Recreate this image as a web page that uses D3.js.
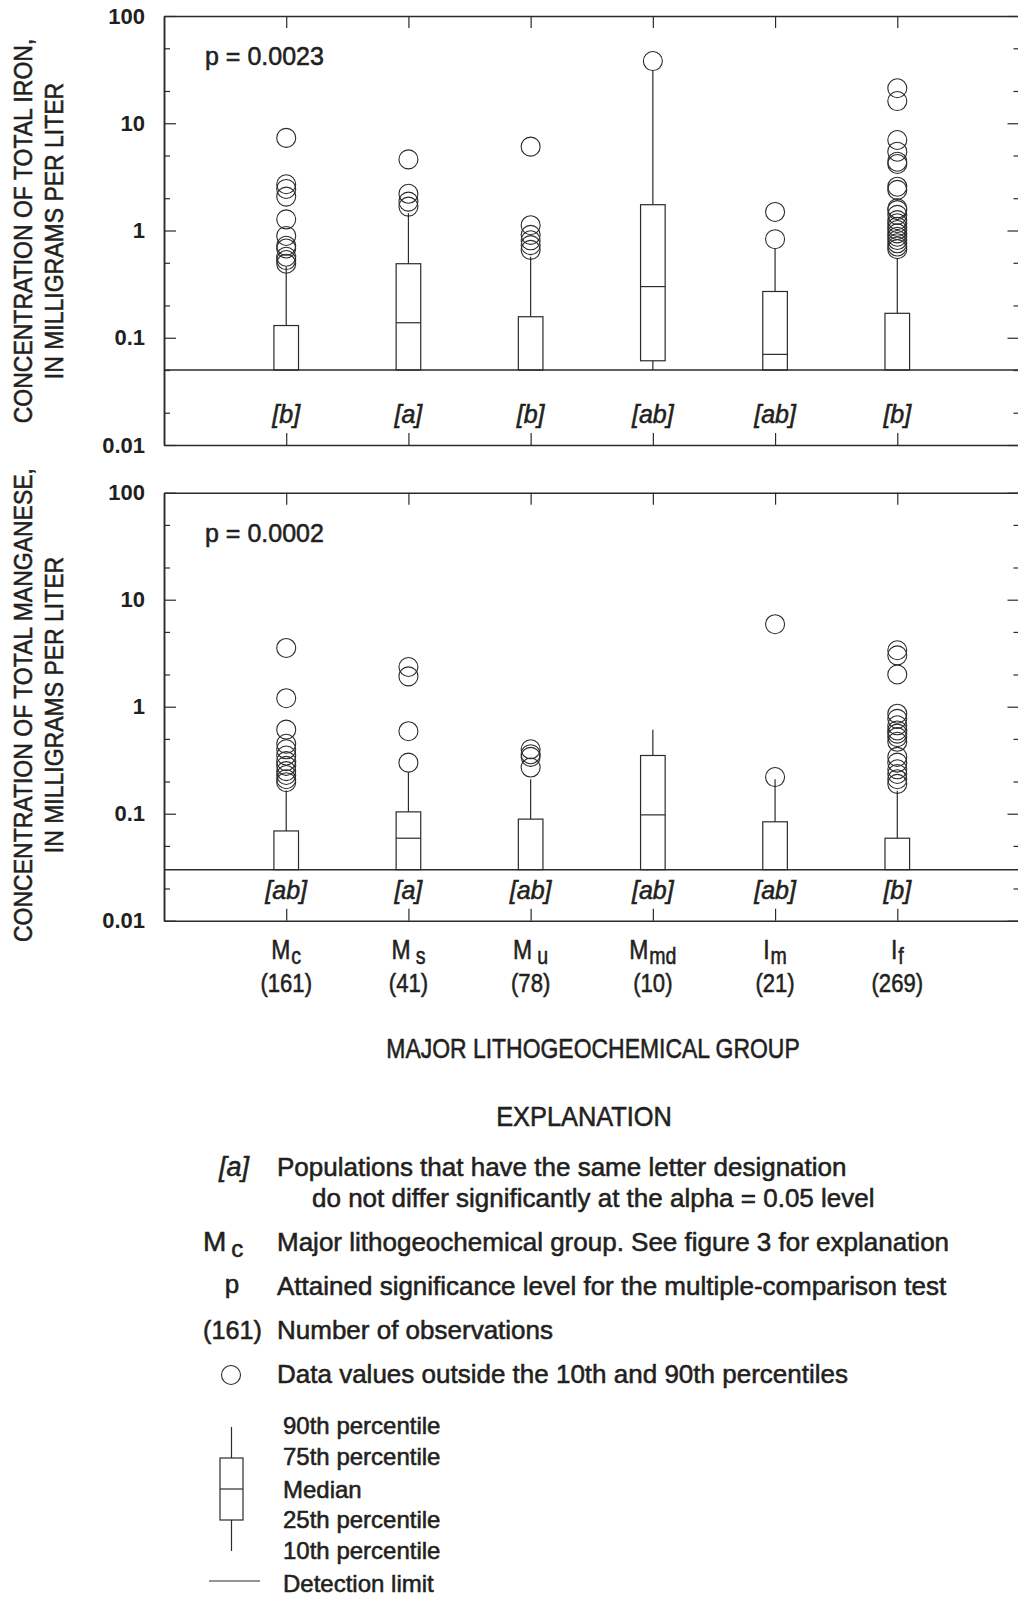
<!DOCTYPE html>
<html>
<head>
<meta charset="utf-8">
<title>Iron and manganese by lithogeochemical group</title>
<script src="https://d3js.org/d3.v7.min.js"></script>
<style>
    body { margin: 0; background: #fff; }
    svg { display: block; }
    text { font-family: "Liberation Sans", Arial, Helvetica, sans-serif; fill: #231f20;
           stroke: #231f20; stroke-width: 0.55px; }
    .tick text { stroke: none; }
</style>
</head>
<body>
<script>
// ---- data ----
const groups = ["Mc", "Ms", "Mu", "Mmd", "Im", "If"];
const groupMain = ["M", "M", "M", "M", "I", "I"];
const groupSub = ["c", "s", "u", "md", "m", "f"];
const groupN = ["(161)", "(41)", "(78)", "(10)", "(21)", "(269)"];
const yTicks = [0.01, 0.1, 1, 10, 100];
const yTickLabels = ["0.01", "0.1", "1", "10", "100"];
const yMinor = [0.02, 0.05, 0.2, 0.5, 2, 5, 20, 50];

// iron (null = below detection limit)
const feP90 = [0.46, 1.45, 0.57, 31, 0.68, 0.55];
const feP75 = [0.13, 0.49, 0.157, 1.74, 0.27, 0.169];
const feMed = [null, 0.138, null, 0.30, 0.070, null];
const feP25 = [null, null, null, 0.061, null, null];
const feOut = [
    [7.3, 2.7, 2.44, 2.07, 1.27, 0.89, 0.72, 0.68, 0.57, 0.53, 0.49],
    [4.6, 2.2, 1.86, 1.67],
    [6.05, 1.12, 0.91, 0.81, 0.73, 0.66],
    [38],
    [1.49, 0.83],
    [21.2, 16.1, 6.98, 5.43, 4.38, 4.17, 2.56, 2.39, 1.61, 1.55, 1.40, 1.25, 1.17,
     1.08, 1.01, 0.94, 0.875, 0.815, 0.76, 0.71, 0.67]
];
const feLetters = ["[b]", "[a]", "[b]", "[ab]", "[ab]", "[b]"];
const feDetection = 0.05;

// manganese
const mnP90 = [0.165, 0.244, 0.21, 0.61, 0.21, 0.164];
const mnP75 = [0.069, 0.104, 0.089, 0.35, 0.084, 0.059];
const mnMed = [null, 0.059, null, 0.0975, null, null];
const mnP25 = [null, null, null, null, null, null];
const mnOut = [
    [3.54, 1.2, 0.61, 0.45, 0.40, 0.35, 0.31, 0.28, 0.25, 0.23, 0.21, 0.197],
    [2.35, 1.92, 0.59, 0.30],
    [0.40, 0.36, 0.34, 0.27],
    [],
    [5.9, 0.22],
    [3.37, 3.02, 2.0, 0.86, 0.77, 0.67, 0.60, 0.56, 0.52, 0.47, 0.34, 0.30,
     0.26, 0.235, 0.21, 0.19]
];
const mnLetters = ["[ab]", "[a]", "[ab]", "[ab]", "[ab]", "[b]"];
const mnDetection = 0.03;

const panels = [
    { top: 16, bottom: 445, p: "p = 0.0023", p90: feP90, p75: feP75, med: feMed, p25: feP25,
      out: feOut, letters: feLetters, det: feDetection,
      title: ["CONCENTRATION OF TOTAL IRON,", "IN MILLIGRAMS PER LITER"], titleY: 231 },
    { top: 492.7, bottom: 920.7, p: "p = 0.0002", p90: mnP90, p75: mnP75, med: mnMed, p25: mnP25,
      out: mnOut, letters: mnLetters, det: mnDetection,
      title: ["CONCENTRATION OF TOTAL MANGANESE,", "IN MILLIGRAMS PER LITER"], titleY: 705 }
];

const W = 1018, H = 1597;
const left = 164, right = 1019.5;
const ink = "#2b2b2b";
const boxHalf = 12.3, rOut = 9.5;

const svg = d3.select("body").append("svg")
    .attr("width", W).attr("height", H);

const x = d3.scalePoint().domain(groups).range([left, right]).padding(1);

// squeeze text horizontally, the figure uses a narrow face
function narrow(parent, tx, ty, k, rot) {
    return parent.append("g")
        .attr("transform", `translate(${tx},${ty})` + (rot ? ` rotate(${rot})` : "") + ` scale(${k},1)`);
}

panels.forEach(P => {
    const y = d3.scaleLog().domain([0.01, 100]).range([P.bottom, P.top]);
    const g = svg.append("g");

    // axes (inward ticks)
    const styleAxis = a => {
        a.selectAll("path.domain").attr("stroke", ink).attr("stroke-width", 1.5);
        a.selectAll(".tick line").attr("stroke", ink).attr("stroke-width", 1.2);
    };
    g.append("g").attr("transform", `translate(${left},0)`)
        .call(d3.axisLeft(y).tickValues(yTicks).tickSize(-12).tickSizeOuter(0).tickPadding(19)
            .tickFormat((d, i) => yTickLabels[i]))
        .call(styleAxis)
        .call(a => a.selectAll("text").attr("font-size", 22).attr("font-weight", "bold")
            .attr("font-family", "Liberation Sans, Arial, sans-serif").attr("fill", "#231f20"));
    g.append("g").attr("transform", `translate(${left},0)`)
        .call(d3.axisLeft(y).tickValues(yMinor).tickSize(-6).tickSizeOuter(0).tickFormat(""))
        .call(styleAxis);
    g.append("g").attr("transform", `translate(${right},0)`)
        .call(d3.axisRight(y).tickValues(yTicks).tickSize(-12).tickSizeOuter(0).tickFormat(""))
        .call(styleAxis);
    g.append("g").attr("transform", `translate(${right},0)`)
        .call(d3.axisRight(y).tickValues(yMinor).tickSize(-6).tickSizeOuter(0).tickFormat(""))
        .call(styleAxis);
    g.append("g").attr("transform", `translate(0,${P.top})`)
        .call(d3.axisTop(x).tickSize(-12).tickSizeOuter(0).tickFormat(""))
        .call(styleAxis);
    g.append("g").attr("transform", `translate(0,${P.bottom})`)
        .call(d3.axisBottom(x).tickSize(-12).tickSizeOuter(0).tickFormat(""))
        .call(styleAxis);

    // detection limit
    g.append("line")
        .attr("x1", left).attr("x2", right)
        .attr("y1", y(P.det)).attr("y2", y(P.det))
        .attr("stroke", ink).attr("stroke-width", 1.5);

    // boxes
    groups.forEach((c, i) => {
        const cx = x(c);
        const lo = P.p25[i] == null ? P.det : P.p25[i];
        // upper whisker
        g.append("line").attr("x1", cx).attr("x2", cx)
            .attr("y1", y(P.p75[i])).attr("y2", y(P.p90[i]))
            .attr("stroke", ink).attr("stroke-width", 1.2);
        // lower whisker down to detection limit
        if (P.p25[i] != null) {
            g.append("line").attr("x1", cx).attr("x2", cx)
                .attr("y1", y(lo)).attr("y2", y(P.det))
                .attr("stroke", ink).attr("stroke-width", 1.2);
        }
        g.append("rect")
            .attr("x", cx - boxHalf).attr("width", boxHalf * 2)
            .attr("y", y(P.p75[i])).attr("height", y(lo) - y(P.p75[i]))
            .attr("fill", "none").attr("stroke", ink).attr("stroke-width", 1.2);
        if (P.med[i] != null) {
            g.append("line").attr("x1", cx - boxHalf).attr("x2", cx + boxHalf)
                .attr("y1", y(P.med[i])).attr("y2", y(P.med[i]))
                .attr("stroke", ink).attr("stroke-width", 1.2);
        }
        g.selectAll(null).data(P.out[i]).join("circle")
            .attr("cx", cx).attr("cy", d => y(d)).attr("r", rOut)
            .attr("fill", "none").attr("stroke", ink).attr("stroke-width", 1.1);
        g.append("text")
            .attr("x", cx).attr("y", P.bottom - 22)
            .attr("text-anchor", "middle").attr("font-size", 25).attr("font-style", "italic")
            .text(P.letters[i]);
    });

    g.append("text").attr("x", 205).attr("y", P.top + 49)
        .attr("font-size", 25).text(P.p);

    // y title, two lines
    const t1 = narrow(svg, 32, P.titleY, 0.92, -90);
    t1.append("text").attr("text-anchor", "middle").attr("font-size", 25).text(P.title[0]);
    const t2 = narrow(svg, 63, P.titleY, 0.92, -90);
    t2.append("text").attr("text-anchor", "middle").attr("font-size", 25).text(P.title[1]);
});

// group labels under the lower panel
groups.forEach((c, i) => {
    const gl = narrow(svg, x(c), 959, 0.85);
    const t = gl.append("text").attr("text-anchor", "middle").attr("font-size", 27);
    t.append("tspan").text(groupMain[i]);
    t.append("tspan").attr("font-size", 23).attr("dy", 5)
        .attr("dx", (groupSub[i] === "s" || groupSub[i] === "u") ? 6 : 1).text(groupSub[i]);
    narrow(svg, x(c), 992, 0.85).append("text")
        .attr("text-anchor", "middle").attr("font-size", 26).text(groupN[i]);
});

narrow(svg, 593, 1058, 0.85).append("text")
    .attr("text-anchor", "middle").attr("font-size", 27).text("MAJOR LITHOGEOCHEMICAL GROUP");

// ---- explanation ----
narrow(svg, 584, 1126, 0.94).append("text")
    .attr("text-anchor", "middle").attr("font-size", 27).text("EXPLANATION");

const legText = ["Populations that have the same letter designation",
    "Major lithogeochemical group. See figure 3 for explanation",
    "Attained significance level for the multiple-comparison test",
    "Number of observations",
    "Data values outside the 10th and 90th percentiles"];
const legY = [1176, 1251, 1295, 1339, 1383];
const boxText = ["90th percentile", "75th percentile", "Median", "25th percentile", "10th percentile", "Detection limit"];
const boxTextY = [1434, 1465, 1498, 1528, 1559, 1592];

const leg = svg.append("g");
const legSize = 26;
legText.forEach((s, i) => {
    leg.append("text").attr("x", 277).attr("y", legY[i]).attr("font-size", legSize).text(s);
});
leg.append("text").attr("x", 312).attr("y", 1207).attr("font-size", legSize)
    .text("do not differ significantly at the alpha = 0.05 level");

// symbols column
leg.append("text").attr("x", 249).attr("y", legY[0]).attr("text-anchor", "end")
    .attr("font-size", 27).attr("font-style", "italic").text("[a]");
const mc = leg.append("text").attr("x", 203).attr("y", legY[1]).attr("font-size", 28);
mc.append("tspan").text("M");
mc.append("tspan").attr("dx", 5).attr("dy", 6).attr("font-size", 24).text("c");
leg.append("text").attr("x", 232).attr("y", legY[2] - 2).attr("text-anchor", "middle")
    .attr("font-size", legSize).text("p");
leg.append("text").attr("x", 203).attr("y", legY[3]).attr("font-size", 25.2).text("(161)");
leg.append("circle").attr("cx", 231).attr("cy", 1375).attr("r", rOut)
    .attr("fill", "none").attr("stroke", ink).attr("stroke-width", 1.1);

// box symbol
const ly = d3.scaleLinear().domain([0, 4]).range([1427, 1551]);
const bx = 231.5;
leg.append("line").attr("x1", bx).attr("x2", bx).attr("y1", ly(0)).attr("y2", ly(4))
    .attr("stroke", ink).attr("stroke-width", 1.2);
leg.append("rect").attr("x", bx - 11.5).attr("width", 23)
    .attr("y", ly(1)).attr("height", ly(3) - ly(1))
    .attr("fill", "#fff").attr("stroke", ink).attr("stroke-width", 1.2);
leg.append("line").attr("x1", bx - 11.5).attr("x2", bx + 11.5).attr("y1", ly(2)).attr("y2", ly(2))
    .attr("stroke", ink).attr("stroke-width", 1.2);
leg.append("line").attr("x1", 209).attr("x2", 260).attr("y1", 1581).attr("y2", 1581)
    .attr("stroke", ink).attr("stroke-width", 1.2);
boxText.forEach((s, i) => {
    leg.append("text").attr("x", 283).attr("y", boxTextY[i]).attr("font-size", 24).text(s);
});
</script>
</body>
</html>
